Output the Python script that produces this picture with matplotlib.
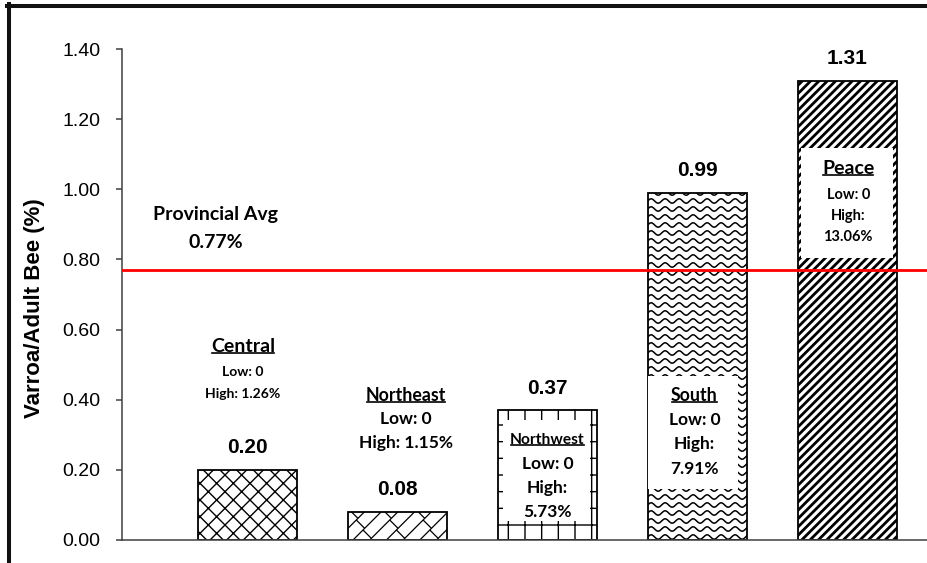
import numpy as np
import matplotlib.pyplot as plt
from matplotlib.patches import Rectangle
from matplotlib.lines import Line2D

# data
regions = ["Central", "Northeast", "Northwest", "South", "Peace"]
mite_load = [0.20, 0.08, 0.37, 0.99, 1.31]
low_pct = ["0", "0", "0", "0", "0"]
high_pct = ["1.26%", "1.15%", "5.73%", "7.91%", "13.06%"]
provincial_avg = 0.77
y_ticks = [0.00, 0.20, 0.40, 0.60, 0.80, 1.00, 1.20, 1.40]

# styling / layout
hatches = ["xx", None, "+", None, "////"]
label_x = [-0.03, 1.055, 2.0, 2.98, 4.005]
label_y = [0.553, 0.413, 0.285, 0.413, 1.058]
name_size = [14, 12.8, 11.2, 12.8, 14]
detail_size = [10, 12.5, 12.5, 12.5, 10.5]
first_gap = [26, 24, 24, 24.5, 26]
line_step = [22, 24, 24, 24.5, 21]
wrapped = [False, False, True, True, True]
# white boxes behind the labels inside bars (x0, x1, y0, y1)
boxes = {2: (1.703, 2.283, 0.054, 0.342),
         3: (2.673, 3.273, 0.145, 0.468),
         4: (3.690, 4.303, 0.804, 1.118)}

W, H = 927, 563
fig = plt.figure(figsize=(W / 100, H / 100), dpi=100)
ax = fig.add_axes([122 / W, 23 / H, 805 / W, 491 / H])
ax.set_xlim(-0.837, 4.53)
ax.set_ylim(0, 1.4)

x = np.arange(len(regions))
bars = []
for i in range(len(regions)):
    hlw = 2.0 if i == 4 else 1.0
    with plt.rc_context({"hatch.linewidth": hlw}):
        b = ax.bar(x[i], mite_load[i], width=0.665, color="white",
                   edgecolor="black", linewidth=1.3, hatch=hatches[i], zorder=2)
    if hasattr(b[0], "set_hatch_linewidth"):
        b[0].set_hatch_linewidth(hlw)
    bars.append(b[0])

# pixel size in data units
inv = ax.transData.inverted()
o = inv.transform((0, 0))
p = inv.transform((1, 1))
dxp, dyp = p[0] - o[0], p[1] - o[1]


def draw_clipped(bar, px, py, lw=1.0):
    ln, = ax.plot(bar.get_x() + np.asarray(px) * dxp, np.asarray(py) * dyp,
                  color="black", lw=lw, zorder=2.5, solid_capstyle="butt")
    ln.set_clip_path(bar)


# wavy fill for South bar
south = bars[3]
sw_px = south.get_width() / dxp
sh_px = south.get_height() / dyp
xs = np.linspace(0, sw_px, 300)
for yrow in np.arange(3, sh_px, 8):
    draw_clipped(south, xs, yrow + 2.2 * np.sin(2 * np.pi * xs / 14), lw=1.1)

# diagonal brick fill for Northeast bar
ne = bars[1]
nw_px = ne.get_width() / dxp
nh_px = ne.get_height() / dyp
gap = 16.7
for k, c in enumerate(np.arange(-nh_px - gap, nw_px + gap, gap)):
    draw_clipped(ne, [c, c + nh_px + 10], [0, nh_px + 10], lw=0.9)
    for s in np.arange(-20 + (k % 2) * 10, nh_px + 20, 20):
        draw_clipped(ne, [c + s, c + s + gap / 2], [s, s - gap / 2], lw=0.9)

for i, (bx0, bx1, by0, by1) in boxes.items():
    ax.add_patch(Rectangle((bx0, by0), bx1 - bx0, by1 - by0, facecolor="white",
                           edgecolor="none", zorder=3))

ax.axhline(provincial_avg, color="#ff0000", lw=2.0, zorder=3.5)

# value labels
for i, v in enumerate(mite_load):
    ax.annotate(f"{v:.2f}", (x[i], v), xytext=(0, 22 * 0.72), textcoords="offset points",
                ha="center", va="center", fontsize=15, fontweight="bold",
                family="Liberation Sans", zorder=5)

# region labels
name_texts = []
for i in range(len(regions)):
    t = ax.annotate(regions[i], (label_x[i], label_y[i]), ha="center", va="center",
                    fontsize=name_size[i], fontweight="bold", family="Lato", zorder=5)
    name_texts.append(t)
    if wrapped[i]:
        lines = ["Low: " + low_pct[i], "High:", high_pct[i]]
    else:
        lines = ["Low: " + low_pct[i], "High: " + high_pct[i]]
    off = first_gap[i]
    for s in lines:
        ax.annotate(s, (label_x[i], label_y[i]), xytext=(0, -off * 0.72),
                    textcoords="offset points", ha="center", va="center",
                    fontsize=detail_size[i], fontweight="bold", family="Lato", zorder=5)
        off += line_step[i]

ax.annotate("Provincial Avg", (-0.213, 0.927), ha="center", va="center",
            fontsize=14, fontweight="bold", family="Lato")
ax.annotate(f"{provincial_avg:.2f}%", (-0.213, 0.927), xytext=(0, -28 * 0.72),
            textcoords="offset points", ha="center", va="center",
            fontsize=14, fontweight="bold", family="Lato")

ax.set_yticks(y_ticks)
ax.set_yticklabels([f"{t:.2f}" for t in y_ticks], family="Liberation Sans", fontsize=14)
ax.set_xticks([])
ax.tick_params(axis="y", length=4.5, width=1.1, color="#404040", pad=11)
for s in ["top", "right"]:
    ax.spines[s].set_visible(False)
for s in ["left", "bottom"]:
    ax.spines[s].set_color("#404040")
    ax.spines[s].set_linewidth(1.1)

ax.set_ylabel("Varroa/Adult Bee (%)", family="Liberation Sans", fontsize=16,
              fontweight="bold")
ax.yaxis.set_label_coords(-0.096, 0.472)

# outer frame (left and top edges)
fig.add_artist(Line2D([9 / W, 9 / W], [0, 1 - 4 / H], color="#111111", lw=2.9,
                      transform=fig.transFigure))
fig.add_artist(Line2D([7 / W, 1], [1 - 6 / H, 1 - 6 / H], color="#111111", lw=2.9,
                      transform=fig.transFigure))

# underline region names
fig.canvas.draw()
r = fig.canvas.get_renderer()
for t in name_texts:
    bb = t.get_window_extent(r)
    yy = bb.y0 + 2
    a = fig.transFigure.inverted().transform([(bb.x0 + 1, yy), (bb.x1 - 1, yy)])
    fig.add_artist(Line2D(a[:, 0], a[:, 1], color="black", lw=1.2,
                          transform=fig.transFigure))

fig.savefig("out.png", dpi=100)
